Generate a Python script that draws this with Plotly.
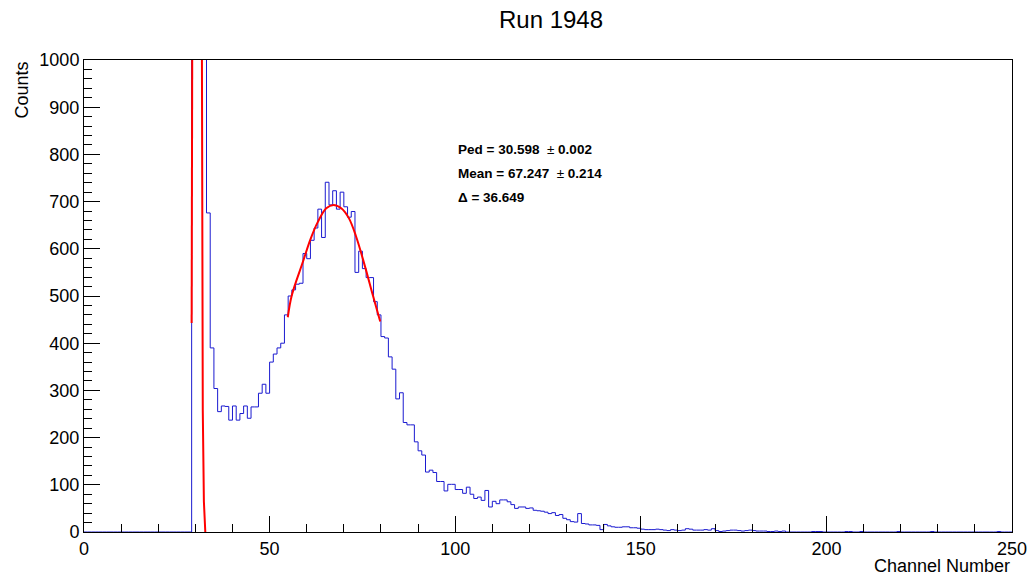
import plotly.graph_objects as go

# ---------------- data ----------------
# histogram: 250 bins of width 1 channel, from 0 to 250 (counts per bin)
bin_low = list(range(0, 250))
counts = (
    [0] * 29 +
    # 29..32 pedestal (off scale)
    [1500, 9000, 8000, 1800] +
    # 33..46 valley
    [676, 390, 304, 255, 267, 266, 237, 267, 237, 251, 267, 241, 265, 265] +
    # 47..82 signal peak
    [294, 313, 294, 360, 377, 390, 400, 460, 500, 513, 525, 527, 590, 579,
     618, 644, 684, 624, 741, 693, 723, 684, 720, 689, 667, 679, 550, 595,
     558, 539, 539, 488, 460, 414, 411, 371] +
    # 83..124 tail
    [345, 282, 295, 232, 227, 227, 191, 172, 163, 127, 131, 126, 107, 107,
     87, 101, 101, 90, 90, 82, 95, 80, 71, 74, 67, 88, 53, 65, 60, 68, 68,
     64, 58, 50, 53, 53, 50, 51, 46, 45, 44, 42] +
    # 125..188
    [39, 41, 35, 37, 29, 26, 22, 21, 39, 18, 17, 15, 15, 14, 5, 16, 13, 11,
     10, 10, 11, 11, 9, 9, 8, 6, 5, 5, 5, 6, 5, 4, 3, 5, 4, 3, 4, 7, 6, 4,
     4, 4, 5, 4, 7, 3, 1, 2, 3, 4, 4, 3, 2, 3, 4, 3, 2, 2, 2, 1, 1, 2, 1, 2] +
    # 189..249
    [0] * 7 + [1, 1, 1] + [0] * 6 + [1, 1] + [0, 0] + [1] + [0] * 9 + [1] +
    [0] * 8 + [1] + [0] * 17 + [1] + [0] * 3
)

# fitted curves (channel, counts)
ped_fit_x = [29.0, 29.02, 29.15, None, 31.77, 31.8, 32.0, 32.3, 32.68]
ped_fit_y = [443, 901, 1000, None, 1000, 883, 258, 64, 0]
peak_fit_x = [54.9, 56.0, 59.0, 60.95, 63.0, 65.26, 67.23, 69.3, 71.35, 73.3,
              75.58, 77.8, 79.8]
peak_fit_y = [455, 502, 573, 619, 657, 686, 693, 686, 665, 626, 566, 502, 446]

title_text = "Run 1948"
x_title = "Channel Number"
y_title = "Counts"
fit_lines = ["<b>Ped = 30.598</b>  ± <b>0.002</b>",
             "<b>Mean = 67.247</b>  ± <b>0.214</b>",
             "<b>Δ = 36.649</b>"]

# ---------------- figure ----------------
step_x = bin_low + [250]
step_y = counts + [counts[-1]]

fig = go.Figure()
fig.add_trace(go.Scatter(x=step_x, y=step_y, mode="lines",
                         line=dict(color="#1a1ad0", width=1, shape="hv"),
                         hoverinfo="skip"))
fig.add_trace(go.Scatter(x=ped_fit_x, y=ped_fit_y, mode="lines",
                         line=dict(color="#ff0000", width=2),
                         connectgaps=False, hoverinfo="skip"))
fig.add_trace(go.Scatter(x=peak_fit_x, y=peak_fit_y, mode="lines",
                         line=dict(color="#ff0000", width=2, shape="spline"),
                         hoverinfo="skip"))

FONT = "Liberation Sans, Arial, Helvetica, sans-serif"
fig.update_layout(
    width=1029, height=575,
    margin=dict(l=84, r=17, t=60, b=43, autoexpand=False),
    paper_bgcolor="white", plot_bgcolor="white",
    showlegend=False,
    font=dict(family=FONT, color="black", size=18),
    title=dict(text=title_text, x=551 / 1029, xanchor="center",
               y=1 - 20 / 575, yanchor="middle",
               font=dict(size=24, family=FONT, color="black")),
)
fig.update_xaxes(
    range=[0, 250], tickmode="linear", tick0=0, dtick=50, automargin=False,
    ticks="inside", ticklen=16, tickwidth=1, tickcolor="black",
    minor=dict(tickmode="linear", tick0=0, dtick=10, ticks="inside",
               ticklen=8, tickcolor="black", tickwidth=1),
    showline=True, linecolor="black", linewidth=1, mirror=True,
    showgrid=False, zeroline=False,
    tickfont=dict(size=18, family=FONT, color="black"),
)
fig.update_yaxes(
    range=[0, 1000], tickmode="linear", tick0=0, dtick=100, automargin=False,
    ticks="inside", ticklen=16, tickwidth=1, tickcolor="black",
    minor=dict(tickmode="linear", tick0=0, dtick=20, ticks="inside",
               ticklen=8, tickcolor="black", tickwidth=1),
    showline=True, linecolor="black", linewidth=1, mirror=True,
    showgrid=False, zeroline=False,
    tickfont=dict(size=18, family=FONT, color="black"),
)

# axis titles (ROOT style: at the ends of the axes)
fig.add_annotation(text=y_title, textangle=-90, xref="paper", yref="paper",
                   x=(21 - 84) / 928, y=1.0, xanchor="center", yanchor="top",
                   showarrow=False, font=dict(size=18, family=FONT, color="black"))
fig.add_annotation(text=x_title, xref="paper", yref="paper",
                   x=1.0, y=(532 - 566) / 472, xanchor="right", yanchor="middle",
                   showarrow=False, font=dict(size=18, family=FONT, color="black"))

for i, t in enumerate(fit_lines):
    ypix = 149 + 24 * i
    fig.add_annotation(text=t, xref="paper", yref="paper",
                       x=(456 - 84) / 928, y=(532 - ypix) / 472,
                       xanchor="left", yanchor="middle", showarrow=False,
                       font=dict(size=13.5, family=FONT, color="black"))

fig.write_html("out.html",
               config={"displayModeBar": False},
               post_script="document.body.style.margin='0';"
                           "document.body.style.overflow='hidden';")
